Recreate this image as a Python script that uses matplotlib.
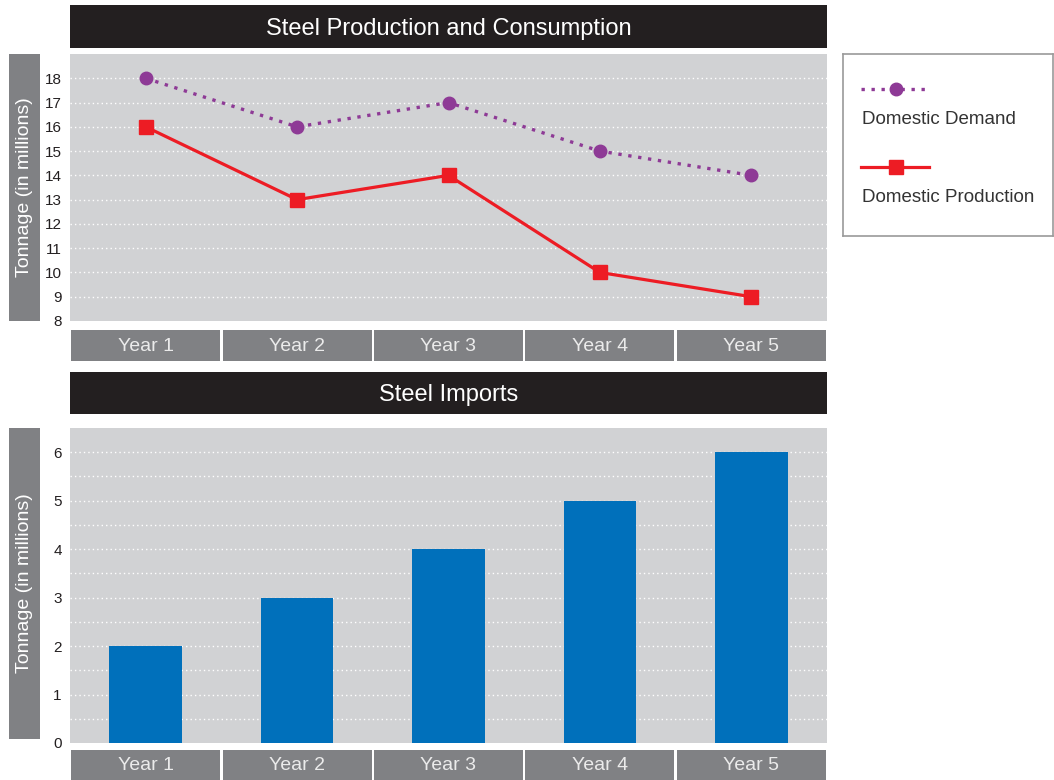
import numpy as np
import matplotlib.pyplot as plt
from matplotlib.lines import Line2D

plt.rcParams['font.family'] = ['Liberation Sans', 'DejaVu Sans']

years = ['Year 1', 'Year 2', 'Year 3', 'Year 4', 'Year 5']
demand = [18, 16, 17, 15, 14]
production = [16, 13, 14, 10, 9]
imports = [2, 3, 4, 5, 6]

W, H = 1054, 780
PLOT_BG = '#d1d2d4'
DARK = '#231f20'
GREY = '#808184'
PURPLE = '#8e3a96'
RED = '#ed1c24'
BLUE = '#0070bb'

fig = plt.figure(figsize=(W / 100, H / 100), dpi=100)


def box(x, y, w, h):
    # pixel box (top-left origin) -> figure fraction rect
    return [x / W, 1 - (y + h) / H, w / W, h / H]


def title_bar(y, h, text):
    ax = fig.add_axes(box(70, y, 757, h))
    ax.set_facecolor(DARK)
    ax.set_xticks([])
    ax.set_yticks([])
    for s in ax.spines.values():
        s.set_visible(False)
    ax.text(0.5, 0.45, text, color='white', fontsize=17, ha='center', va='center',
            transform=ax.transAxes)


def ylabel_bar(y, h):
    ax = fig.add_axes(box(9, y, 31, h))
    ax.set_facecolor(GREY)
    ax.set_xticks([])
    ax.set_yticks([])
    for s in ax.spines.values():
        s.set_visible(False)
    ax.text(0.5, 0.5, 'Tonnage (in millions)', color='white', fontsize=14,
            rotation=90, ha='center', va='center', transform=ax.transAxes)


def year_strip(y, h):
    ax = fig.add_axes(box(70, y, 757, h))
    x = np.arange(len(years))
    ax.bar(x, [1] * len(years), width=0.985, color=GREY)
    for i, lab in enumerate(years):
        ax.text(i, 0.47, lab, color='#ebebeb', fontsize=14, ha='center', va='center')
    ax.set_xlim(-0.5, len(years) - 0.5)
    ax.set_ylim(0, 1)
    ax.axis('off')


def style_plot(ax, ymin, ymax, ticks, grid_step):
    ax.set_facecolor(PLOT_BG)
    for s in ax.spines.values():
        s.set_visible(False)
    ax.set_xlim(-0.5, len(years) - 0.5)
    ax.set_ylim(ymin, ymax)
    ax.set_xticks([])
    ax.set_yticks(ticks)
    ax.tick_params(axis='y', length=0, pad=6, labelsize=11, labelcolor='#231f20')
    for g in np.arange(ymin + grid_step, ymax, grid_step):
        ax.axhline(g, color='white', lw=1.0, ls=(0, (1, 2.2)), zorder=0.5)


# top chart
title_bar(5, 43, 'Steel Production and Consumption')
ylabel_bar(54, 267)
ax1 = fig.add_axes(box(70, 54, 757, 267))
style_plot(ax1, 8, 19, range(8, 19), 1)
x = np.arange(len(years))
ax1.plot(x, demand, color=PURPLE, lw=2.4, ls=(0, (1.0, 2.0)), marker='o',
         markersize=9, zorder=3)
ax1.plot(x, production, color=RED, lw=2.3, marker='s', markersize=9.5, zorder=4)
year_strip(330, 31)

# legend
lg = fig.add_axes(box(843, 54, 210, 182))
lg.set_xlim(0, 210)
lg.set_ylim(182, 0)
lg.set_xticks([])
lg.set_yticks([])
for s in lg.spines.values():
    s.set_color('#9a9a9a')
    s.set_linewidth(1.2)
lg.add_line(Line2D([18, 86], [35, 35], color=PURPLE, lw=2.4, ls=(0, (1.0, 2.0))))
lg.plot([53], [35], color=PURPLE, marker='o', markersize=9)
lg.text(19, 65, 'Domestic Demand', fontsize=13.5, color='#333333', va='center')
lg.add_line(Line2D([18, 86], [113, 113], color=RED, lw=2.3))
lg.plot([53], [113], color=RED, marker='s', markersize=9.5)
lg.text(19, 143, 'Domestic Production', fontsize=13.5, color='#333333', va='center')

# bottom chart
title_bar(372, 42, 'Steel Imports')
ylabel_bar(428, 311)
ax2 = fig.add_axes(box(70, 428, 757, 315))
style_plot(ax2, 0, 6.5, range(0, 7), 0.5)
ax2.bar(x, imports, width=0.48, color=BLUE, zorder=3)
year_strip(750, 30)

fig.savefig('out.png', dpi=100)
